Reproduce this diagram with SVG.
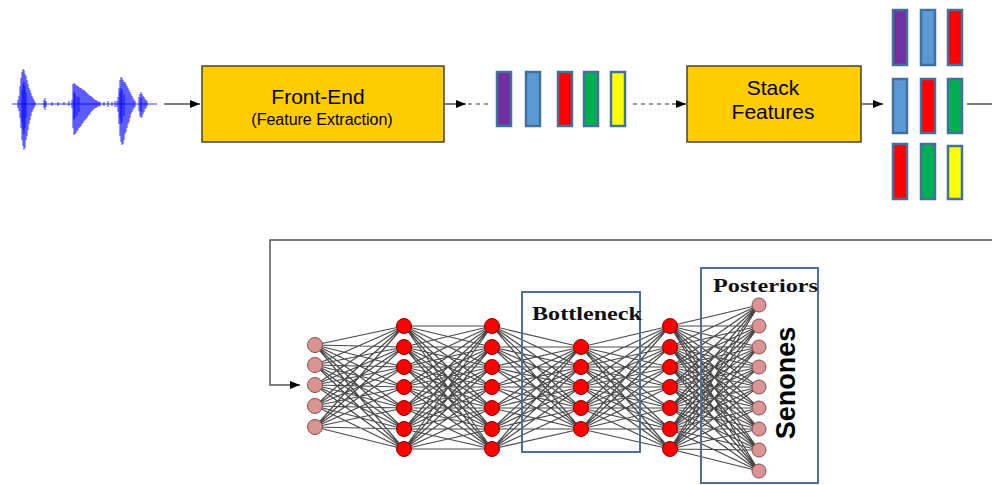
<svg xmlns="http://www.w3.org/2000/svg" width="992" height="485" viewBox="0 0 992 485">
  <defs>
    <marker id="arrow" viewBox="0 0 10 8" refX="10" refY="4" markerWidth="10" markerHeight="8" markerUnits="userSpaceOnUse" orient="auto">
      <path d="M0 0L10 4L0 8z" fill="#000"/>
    </marker>
    <style>
      .box { fill: #FFCC00; stroke: #404040; stroke-width: 1.5; }
      .label { font-family: "Liberation Sans", Arial, sans-serif; fill: #000; text-anchor: middle; }
      .link { fill: none; stroke: #555; stroke-width: 1.5; }
      .dash { fill: none; stroke: #777; stroke-width: 1.5; stroke-dasharray: 4 4; }
      .bar { stroke: #41719C; stroke-width: 2.5; }
      .purple { fill: #7030A0; }
      .blue { fill: #5B9BD5; }
      .red { fill: #FF0000; }
      .green { fill: #00B050; }
      .yellow { fill: #FFFF00; }
      .wire { fill: none; stroke: #1a1a1a; stroke-width: 1.2; stroke-opacity: 0.8; }
      .io { fill: #D99594; stroke: #8a4b4b; stroke-width: 1; }
      .hid { fill: #FF0000; stroke: #8b0000; stroke-width: 1; }
      .frame { fill: none; stroke: #4e6e9e; stroke-width: 2; }
      .serif { font-family: "Liberation Serif", "Times New Roman", serif; font-weight: bold; font-size: 19px; fill: #111; }
      .wave { fill: none; stroke: #0000ff; stroke-width: 0.8; }
    </style>
  </defs>

  <!-- speech waveform -->
  <g id="waveform">
    <path class="wave" stroke-width="1.6" d="M12 104H157"/>
    <path class="wave" d="M18 100V108M19 96V111M20 86V118M21 78V128M22 72V140M23 69V146M24 70V150M25 74V148M26 76V140M27 80V136M28 84V130M29 88V124M30 90V120M31 93V116M32 96V112M33 98V110M34 100V108M35 102V106
      M44 100V108M45 98V110M46 101V107M52 102V106M58 102V106M64 102V105M69 101V106
      M72 100V108M73 84V128M74 83V135M75 84V134M76 85V133M77 86V131M78 86V130M79 87V128M80 88V127M81 88V126M82 89V124M83 90V123M84 90V121M85 91V120M86 92V119M87 93V118M88 94V116M89 95V115M90 96V114M91 96V112M92 97V111M93 98V110M94 99V109M95 100V108M96 100V108M97 101V107M98 101V107M99 102V106M100 102V106
      M104 102V106M108 101V107M112 102V106M115 101V107
      M117 101V107M118 97V112M119 88V124M120 80V136M121 77V142M122 78V145M123 80V144M124 82V140M125 82V134M126 84V132M127 86V128M128 88V124M129 90V122M130 92V118M131 94V114M132 96V112M133 98V110M134 100V108M135 101V107
      M139 97V111M140 94V116M141 92V118M142 94V117M143 96V114M144 97V112M145 99V109M146 100V108M147 101V106"/>
    <path class="wave" stroke-width="1.2" d="M22 90V122M23 84V130M24 82V134M25 86V128M26 92V118M74 92V120M75 94V118M77 96V116M79 97V112M120 92V118M121 88V124M122 90V122M124 94V116M141 98V112"/>
  </g>

  <!-- processing blocks -->
  <g id="front-end">
    <rect class="box" x="202" y="66" width="242" height="76"/>
    <text class="label" x="318" y="104" font-size="21">Front-End</text>
    <text class="label" x="322" y="125" font-size="16">(Feature Extraction)</text>
  </g>

  <g id="frame-features">
    <rect class="bar purple" x="497" y="72" width="14" height="54"/>
    <rect class="bar blue" x="526" y="72" width="14" height="54"/>
    <rect class="bar red" x="558" y="72" width="14" height="54"/>
    <rect class="bar green" x="584" y="72" width="14" height="54"/>
    <rect class="bar yellow" x="611" y="72" width="14" height="54"/>
  </g>

  <g id="stack-features">
    <rect class="box" x="687" y="66" width="174" height="76"/>
    <text class="label" x="773" y="95" font-size="21">Stack</text>
    <text class="label" x="773" y="119" font-size="21">Features</text>
  </g>

  <g id="stacked-features">
    <rect class="bar purple" x="893" y="10" width="14" height="55"/>
    <rect class="bar blue" x="921" y="10" width="14" height="55"/>
    <rect class="bar red" x="948" y="10" width="14" height="55"/>
    <rect class="bar blue" x="893" y="79" width="14" height="54"/>
    <rect class="bar red" x="921" y="79" width="14" height="54"/>
    <rect class="bar green" x="948" y="79" width="14" height="54"/>
    <rect class="bar red" x="893" y="144" width="14" height="55"/>
    <rect class="bar green" x="921" y="144" width="14" height="55"/>
    <rect class="bar yellow" x="948" y="146" width="14" height="53"/>
  </g>

  <!-- flow connectors -->
  <g id="connectors">
    <path class="link" d="M164 104H200" marker-end="url(#arrow)"/>
    <path class="link" d="M444 104H466" marker-end="url(#arrow)"/>
    <path class="dash" d="M468 104H490"/>
    <path class="dash" d="M633 104H673"/>
    <path class="link" d="M672 104H686" marker-end="url(#arrow)"/>
    <path class="link" d="M861 104H883" marker-end="url(#arrow)"/>
    <path class="link" d="M967 104H992"/>
    <path class="link" stroke-width="1.3" d="M992 240H270V385H300" marker-end="url(#arrow)"/>
  </g>

  <!-- network weights -->
  <g id="weights" class="wire">
    <path d="M315 345L404 326M315 345L404 347M315 345L404 367M315 345L404 387M315 345L404 408M315 345L404 429M315 345L404 449
      M315 365L404 326M315 365L404 347M315 365L404 367M315 365L404 387M315 365L404 408M315 365L404 429M315 365L404 449
      M315 385L404 326M315 385L404 347M315 385L404 367M315 385L404 387M315 385L404 408M315 385L404 429M315 385L404 449
      M315 406L404 326M315 406L404 347M315 406L404 367M315 406L404 387M315 406L404 408M315 406L404 429M315 406L404 449
      M315 427L404 326M315 427L404 347M315 427L404 367M315 427L404 387M315 427L404 408M315 427L404 429M315 427L404 449"/>
    <path d="M404 326L492 326M404 326L492 347M404 326L492 367M404 326L492 387M404 326L492 408M404 326L492 429M404 326L492 449
      M404 347L492 326M404 347L492 347M404 347L492 367M404 347L492 387M404 347L492 408M404 347L492 429M404 347L492 449
      M404 367L492 326M404 367L492 347M404 367L492 367M404 367L492 387M404 367L492 408M404 367L492 429M404 367L492 449
      M404 387L492 326M404 387L492 347M404 387L492 367M404 387L492 387M404 387L492 408M404 387L492 429M404 387L492 449
      M404 408L492 326M404 408L492 347M404 408L492 367M404 408L492 387M404 408L492 408M404 408L492 429M404 408L492 449
      M404 429L492 326M404 429L492 347M404 429L492 367M404 429L492 387M404 429L492 408M404 429L492 429M404 429L492 449
      M404 449L492 326M404 449L492 347M404 449L492 367M404 449L492 387M404 449L492 408M404 449L492 429M404 449L492 449"/>
    <path d="M492 326L581 347M492 326L581 367M492 326L581 387M492 326L581 408M492 326L581 429
      M492 347L581 347M492 347L581 367M492 347L581 387M492 347L581 408M492 347L581 429
      M492 367L581 347M492 367L581 367M492 367L581 387M492 367L581 408M492 367L581 429
      M492 387L581 347M492 387L581 367M492 387L581 387M492 387L581 408M492 387L581 429
      M492 408L581 347M492 408L581 367M492 408L581 387M492 408L581 408M492 408L581 429
      M492 429L581 347M492 429L581 367M492 429L581 387M492 429L581 408M492 429L581 429
      M492 449L581 347M492 449L581 367M492 449L581 387M492 449L581 408M492 449L581 429"/>
    <path d="M581 347L670 326M581 347L670 347M581 347L670 367M581 347L670 387M581 347L670 408M581 347L670 429M581 347L670 449
      M581 367L670 326M581 367L670 347M581 367L670 367M581 367L670 387M581 367L670 408M581 367L670 429M581 367L670 449
      M581 387L670 326M581 387L670 347M581 387L670 367M581 387L670 387M581 387L670 408M581 387L670 429M581 387L670 449
      M581 408L670 326M581 408L670 347M581 408L670 367M581 408L670 387M581 408L670 408M581 408L670 429M581 408L670 449
      M581 429L670 326M581 429L670 347M581 429L670 367M581 429L670 387M581 429L670 408M581 429L670 429M581 429L670 449"/>
    <path d="M670 326L759 305M670 326L759 326M670 326L759 347M670 326L759 367M670 326L759 387M670 326L759 408M670 326L759 429M670 326L759 450M670 326L759 471
      M670 347L759 305M670 347L759 326M670 347L759 347M670 347L759 367M670 347L759 387M670 347L759 408M670 347L759 429M670 347L759 450M670 347L759 471
      M670 367L759 305M670 367L759 326M670 367L759 347M670 367L759 367M670 367L759 387M670 367L759 408M670 367L759 429M670 367L759 450M670 367L759 471
      M670 387L759 305M670 387L759 326M670 387L759 347M670 387L759 367M670 387L759 387M670 387L759 408M670 387L759 429M670 387L759 450M670 387L759 471
      M670 408L759 305M670 408L759 326M670 408L759 347M670 408L759 367M670 408L759 387M670 408L759 408M670 408L759 429M670 408L759 450M670 408L759 471
      M670 429L759 305M670 429L759 326M670 429L759 347M670 429L759 367M670 429L759 387M670 429L759 408M670 429L759 429M670 429L759 450M670 429L759 471
      M670 449L759 305M670 449L759 326M670 449L759 347M670 449L759 367M670 449L759 387M670 449L759 408M670 449L759 429M670 449L759 450M670 449L759 471"/>
  </g>

  <!-- network layers -->
  <g id="input-layer" class="io">
    <circle cx="315" cy="345" r="7.5"/>
    <circle cx="315" cy="365" r="7.5"/>
    <circle cx="315" cy="385" r="7.5"/>
    <circle cx="315" cy="406" r="7.5"/>
    <circle cx="315" cy="427" r="7.5"/>
  </g>
  <g id="hidden-layer-1" class="hid">
    <circle cx="404" cy="326" r="7.5"/>
    <circle cx="404" cy="347" r="7.5"/>
    <circle cx="404" cy="367" r="7.5"/>
    <circle cx="404" cy="387" r="7.5"/>
    <circle cx="404" cy="408" r="7.5"/>
    <circle cx="404" cy="429" r="7.5"/>
    <circle cx="404" cy="449" r="7.5"/>
  </g>
  <g id="hidden-layer-2" class="hid">
    <circle cx="492" cy="326" r="7.5"/>
    <circle cx="492" cy="347" r="7.5"/>
    <circle cx="492" cy="367" r="7.5"/>
    <circle cx="492" cy="387" r="7.5"/>
    <circle cx="492" cy="408" r="7.5"/>
    <circle cx="492" cy="429" r="7.5"/>
    <circle cx="492" cy="449" r="7.5"/>
  </g>
  <g id="bottleneck-layer" class="hid">
    <circle cx="581" cy="347" r="7.5"/>
    <circle cx="581" cy="367" r="7.5"/>
    <circle cx="581" cy="387" r="7.5"/>
    <circle cx="581" cy="408" r="7.5"/>
    <circle cx="581" cy="429" r="7.5"/>
  </g>
  <g id="hidden-layer-3" class="hid">
    <circle cx="670" cy="326" r="7.5"/>
    <circle cx="670" cy="347" r="7.5"/>
    <circle cx="670" cy="367" r="7.5"/>
    <circle cx="670" cy="387" r="7.5"/>
    <circle cx="670" cy="408" r="7.5"/>
    <circle cx="670" cy="429" r="7.5"/>
    <circle cx="670" cy="449" r="7.5"/>
  </g>
  <g id="output-layer" class="io">
    <circle cx="759" cy="305" r="7"/>
    <circle cx="759" cy="326" r="7"/>
    <circle cx="759" cy="347" r="7"/>
    <circle cx="759" cy="367" r="7"/>
    <circle cx="759" cy="387" r="7"/>
    <circle cx="759" cy="408" r="7"/>
    <circle cx="759" cy="429" r="7"/>
    <circle cx="759" cy="450" r="7"/>
    <circle cx="759" cy="471" r="7"/>
  </g>

  <!-- annotation frames -->
  <g id="bottleneck">
    <rect class="frame" x="522" y="292" width="118" height="160"/>
    <text class="serif" x="532" y="320" textLength="110" lengthAdjust="spacingAndGlyphs">Bottleneck</text>
  </g>
  <g id="posteriors">
    <rect class="frame" x="701" y="268" width="117" height="215"/>
    <text class="serif" x="713" y="292" textLength="105" lengthAdjust="spacingAndGlyphs">Posteriors</text>
    <text x="795" y="383" transform="rotate(-90 795 383)" font-family="Liberation Sans, Arial, sans-serif" font-weight="bold" font-size="27" text-anchor="middle" fill="#000">Senones</text>
  </g>
</svg>
